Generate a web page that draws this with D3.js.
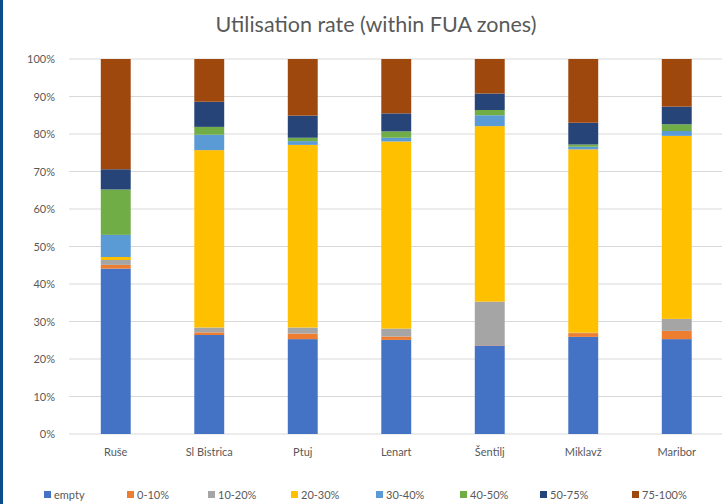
<!DOCTYPE html>
<html>
<head>
<meta charset="utf-8">
<script src="https://cdn.jsdelivr.net/npm/d3@7"></script>
<style>
  html, body { margin: 0; padding: 0; background: #fff; }
  svg { display: block; }
</style>
</head>
<body>
<svg id="chart" width="722" height="504"></svg>
<script>
const categories = ["Ruše", "Sl Bistrica", "Ptuj", "Lenart", "Šentilj", "Miklavž", "Maribor"];
const seriesNames = ["empty", "0-10%", "10-20%", "20-30%", "30-40%", "40-50%", "50-75%", "75-100%"];
const empty   = [44.1, 26.4, 25.3, 25.1, 23.6, 25.9, 25.3];
const r0_10   = [1.0, 0.7, 1.5, 0.9, 0.1, 1.0, 2.2];
const r10_20  = [1.3, 1.3, 1.6, 2.1, 11.6, 0.1, 3.2];
const r20_30  = [0.8, 47.3, 48.7, 49.9, 46.8, 48.9, 48.8];
const r30_40  = [5.9, 4.1, 1.0, 1.0, 2.9, 0.7, 1.3];
const r40_50  = [12.1, 2.1, 0.9, 1.7, 1.4, 0.6, 1.8];
const r50_75  = [5.4, 6.7, 5.9, 4.8, 4.4, 5.8, 4.7];
const r75_100 = [29.4, 11.4, 15.1, 14.5, 9.2, 17.0, 12.7];
const yTicks = [0, 10, 20, 30, 40, 50, 60, 70, 80, 90, 100];
const colors = ["#4472C4", "#ED7D31", "#A5A5A5", "#FFC000", "#5B9BD5", "#70AD47", "#264478", "#9E480E"];

const seriesValues = [empty, r0_10, r10_20, r20_30, r30_40, r40_50, r50_75, r75_100];
const rows = categories.map((c, i) => {
  const row = { cat: c };
  seriesNames.forEach((s, j) => row[s] = seriesValues[j][i]);
  return row;
});
const stack = d3.stack().keys(seriesNames).offset(d3.stackOffsetExpand)(rows);

const svg = d3.select("#chart");
const font = "Lato, 'Open Sans', sans-serif";
const textColor = "#595959";

// left border
svg.append("rect").attr("x", 0).attr("y", 0).attr("width", 3).attr("height", 504).attr("fill", "#0B4C8C");

const x = d3.scaleBand().domain(categories).range([69, 723.5]).paddingInner(0.68).paddingOuter(0.34);
const y = d3.scaleLinear().domain([0, 1]).range([434, 59]);

// gridlines
svg.append("g").selectAll("line").data(yTicks).join("line")
  .attr("x1", 69).attr("x2", 722)
  .attr("y1", d => y(d / 100)).attr("y2", d => y(d / 100))
  .attr("stroke", "#D9D9D9").attr("stroke-width", 1);

// y axis labels
const yAxis = d3.axisLeft(y).tickValues(yTicks.map(d => d / 100)).tickFormat(d3.format(".0%")).tickSize(0).tickPadding(14);
const gy = svg.append("g").attr("transform", "translate(69,0)").call(yAxis);
gy.select(".domain").remove();
gy.selectAll("text").attr("fill", textColor).style("font-family", font).style("font-size", "11px");

// bars
svg.append("g").selectAll("g").data(stack).join("g")
  .attr("fill", (d, i) => colors[i])
  .selectAll("rect").data(d => d).join("rect")
  .attr("x", d => x(d.data.cat))
  .attr("width", x.bandwidth())
  .attr("y", d => y(d[1]))
  .attr("height", d => y(d[0]) - y(d[1]));

// x axis labels
const xAxis = d3.axisBottom(x).tickSize(0).tickPadding(14);
const gx = svg.append("g").attr("transform", "translate(0,434)").call(xAxis);
gx.select(".domain").remove();
gx.selectAll("text").attr("fill", textColor).style("font-family", font).style("font-size", "11px");

// title
svg.append("text").attr("x", 376).attr("y", 32).attr("text-anchor", "middle")
  .attr("fill", textColor).style("font-family", font).style("font-size", "21.5px")
  .text("Utilisation rate (within FUA zones)");

// legend
const legendX = [44, 127, 208, 291, 376, 460, 540, 632];
const lg = svg.append("g").selectAll("g").data(seriesNames).join("g")
  .attr("transform", (d, i) => `translate(${legendX[i]},495)`);
lg.append("rect").attr("x", 0).attr("y", -4).attr("width", 7).attr("height", 7).attr("fill", (d, i) => colors[i]);
lg.append("text").attr("x", 10).attr("y", 4).attr("fill", textColor)
  .style("font-family", font).style("font-size", "11px").text(d => d);
</script>
</body>
</html>
